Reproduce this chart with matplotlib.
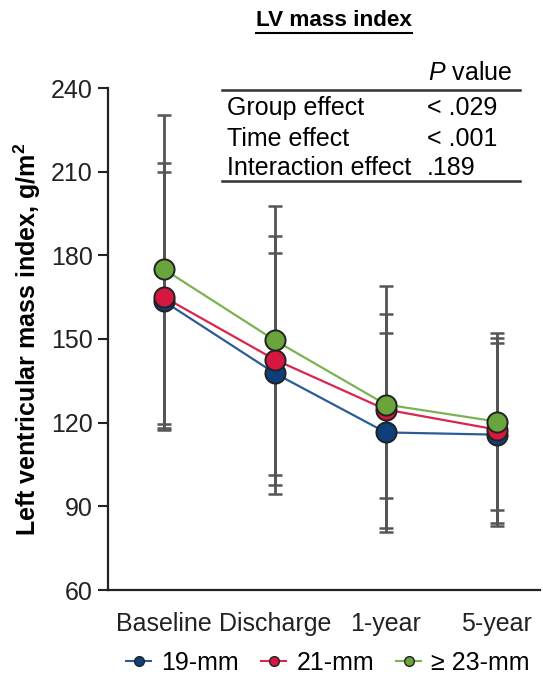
import numpy as np
import matplotlib
matplotlib.use('Agg')
import matplotlib.pyplot as plt
from matplotlib.lines import Line2D

plt.rcParams['font.family'] = ['Liberation Sans', 'DejaVu Sans']
plt.rcParams['mathtext.fontset'] = 'custom'
plt.rcParams['mathtext.it'] = 'Liberation Sans:italic'
plt.rcParams['mathtext.rm'] = 'Liberation Sans'
plt.rcParams['mathtext.bf'] = 'Liberation Sans:bold'

# --- data ---
timepoints = ['Baseline', 'Discharge', '1-year', '5-year']
groups = ['19-mm', '21-mm', '\u2265 23-mm']

mean_19 = [163.5, 137.7, 116.5, 115.7]
mean_21 = [165.0, 142.6, 124.7, 117.5]
mean_23 = [175.0, 149.5, 126.5, 120.4]

upper_19 = [210.0, 180.8, 152.3, 148.5]
upper_21 = [213.0, 186.8, 159.0, 150.5]
upper_23 = [230.3, 197.6, 169.1, 152.3]

lower_19 = [117.5, 94.6, 80.8, 83.0]
lower_21 = [118.0, 97.8, 93.1, 84.0]
lower_23 = [119.7, 101.3, 82.3, 88.6]

effects = ['Group effect', 'Time effect', 'Interaction effect']
p_values = ['< .029', '< .001', '.189']

marker_colors = ['#0d3f7d', '#d6173f', '#6aa43c']
line_colors = ['#2b5c98', '#d8264f', '#7ab352']

W, H = 543, 684
fig = plt.figure(figsize=(W / 100, H / 100), dpi=100)


def fx(x):
    return x / W


def fy(y):
    return 1 - y / H


ax = fig.add_axes([fx(108), fy(590), (540 - 108) / W, (590 - 88) / H])

x = np.arange(len(timepoints))
means = [mean_19, mean_21, mean_23]
uppers = [upper_19, upper_21, upper_23]
lowers = [lower_19, lower_21, lower_23]

# error bars (SD) behind everything
for m, u, l in zip(means, uppers, lowers):
    m, u, l = np.array(m), np.array(u), np.array(l)
    ax.errorbar(x, m, yerr=[m - l, u - m], fmt='none', ecolor='#555555',
                elinewidth=2, capsize=5, capthick=1.8, zorder=2)

for m, lc in zip(means, line_colors):
    ax.plot(x, m, color=lc, lw=1.6, zorder=3)

for i, (m, mc) in enumerate(zip(means, marker_colors)):
    ax.plot(x, m, 'o', ms=14.5, mfc=mc, mec='#222222', mew=1.4, zorder=4 + i)

ax.set_xlim(-0.505, 3.39)
ax.set_ylim(60, 240)
ax.set_yticks(range(60, 241, 30))
ax.set_xticks(x)
ax.set_xticklabels(timepoints)
ax.tick_params(axis='x', length=0, pad=16, labelsize=18, colors='#222222')
ax.tick_params(axis='y', length=7, width=1.5, pad=4, labelsize=18,
               colors='#222222')
for s in ['top', 'right']:
    ax.spines[s].set_visible(False)
for s in ['left', 'bottom']:
    ax.spines[s].set_linewidth(1.6)
    ax.spines[s].set_color('#222222')

ax.set_ylabel('Left ventricular mass index, g/m$^\\mathbf{2}$', fontsize=18,
              fontweight='bold', labelpad=6)

# title with underline
title = fig.text(fx(334), fy(20), 'LV mass index', fontsize=16.2,
                 fontweight='bold', ha='center', va='center')

# P value table
fig.text(fx(428), fy(80), r'$\mathit{P}$ value', fontsize=18, va='baseline')
fig.add_artist(Line2D([fx(222), fx(520)], [fy(90), fy(90)],
                      transform=fig.transFigure, color='#333333', lw=1.8))
row_y = [115, 146, 175]
for eff, pv, yy in zip(effects, p_values, row_y):
    fig.text(fx(227), fy(yy), eff, fontsize=18, va='baseline')
    fig.text(fx(427), fy(yy), pv, fontsize=18, va='baseline')
fig.add_artist(Line2D([fx(222), fx(520)], [fy(181), fy(181)],
                      transform=fig.transFigure, color='#333333', lw=1.8))

# legend
handles = [Line2D([0], [0], color=lc, lw=1.5, marker='o', ms=7, mfc=mc,
                  mec='#222222', mew=1)
           for lc, mc in zip(line_colors, marker_colors)]
fig.legend(handles, groups, loc='center', bbox_to_anchor=(fx(328), fy(663)),
           ncol=3, frameon=False, fontsize=18, handlelength=1.0,
           handletextpad=0.4, columnspacing=0.9)

fig.canvas.draw()
bb = title.get_window_extent()
fig.add_artist(Line2D([bb.x0 / W, bb.x1 / W], [(bb.y0 - 2) / H, (bb.y0 - 2) / H],
                      transform=fig.transFigure, color='black', lw=1.5))

fig.savefig('out.png', dpi=100)
